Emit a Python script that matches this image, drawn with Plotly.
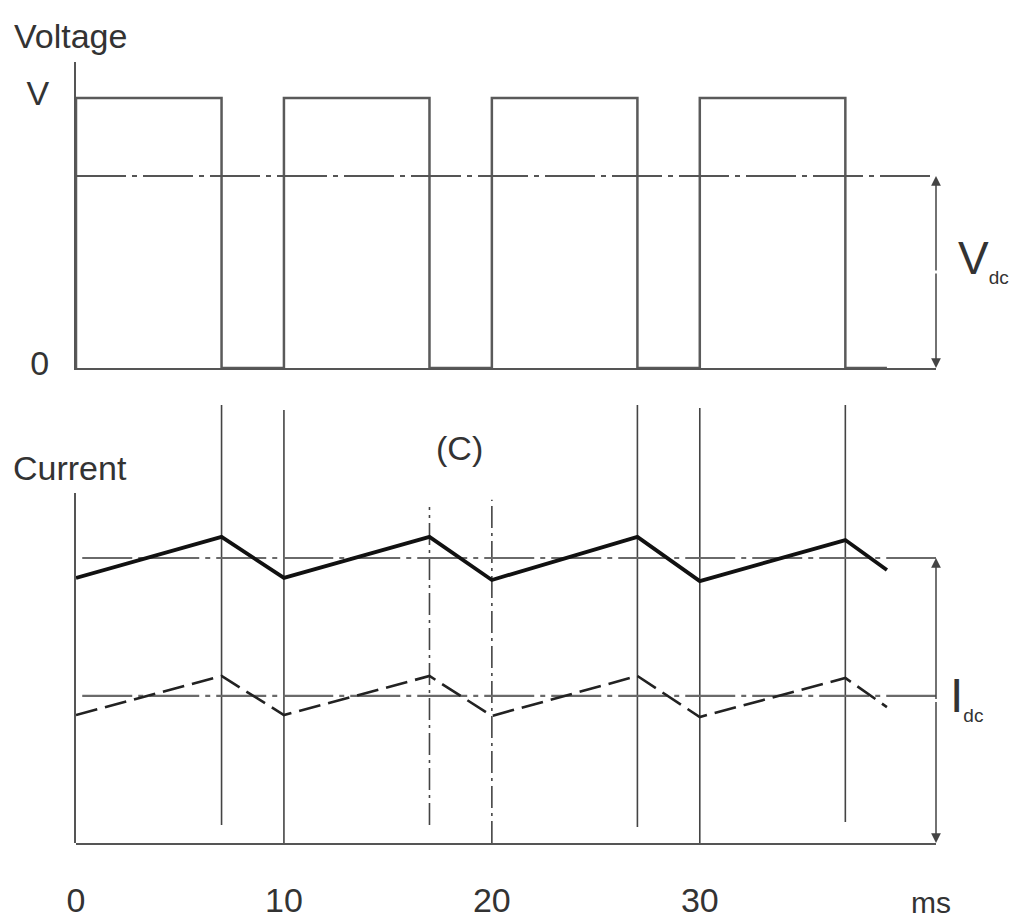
import plotly.graph_objects as go

# ---------------- data ----------------
# Voltage square wave (drawn with 'hv' steps)
volt_t = [0, 0, 7, 10, 17, 20, 27, 30, 37, 39]
volt_v = [0, 1, 0, 1, 0, 1, 0, 1, 0, 0]
V_DC = 0.711

# Currents (triangular ripple)
curr_t = [0, 7, 10, 17, 20, 27, 30, 37, 39]
curr_solid = [0.930, 1.074, 0.930, 1.074, 0.923, 1.074, 0.919, 1.063, 0.958]
curr_dashed = [0.449, 0.586, 0.449, 0.586, 0.446, 0.586, 0.442, 0.579, 0.477]
I_DC_SOLID = 1.0
I_DC_DASHED = 0.516

# Switching instants (vertical markers)
switch_t = [7, 10, 17, 20, 27, 30, 37]
switch_top = [1.537, 1.519, 1.179, 1.204, 1.537, 1.526, 1.537]
switch_bot = [0.063, 0.0, 0.063, 0.0, 0.056, 0.0, 0.074]
switch_dashed = [False, False, True, True, False, False, False]

x_ticks = [0, 10, 20, 30]
x_ticktext = ["0", "10", "20", "30"]
T_END = 41.36

FONT = "Liberation Sans, Arial, sans-serif"
INK = "#333333"
GRAY = "#5a5a5a"
DASHDOT = "50px,6px,5px,6px"

fig = go.Figure()

# Voltage
fig.add_trace(go.Scatter(x=volt_t, y=volt_v, mode="lines", line_shape="hv",
                         line=dict(color=GRAY, width=2.5), xaxis="x", yaxis="y",
                         showlegend=False, hoverinfo="skip"))
fig.add_trace(go.Scatter(x=[0, T_END], y=[V_DC, V_DC], mode="lines",
                         line=dict(color="#555555", width=2.2, dash=DASHDOT),
                         xaxis="x", yaxis="y", showlegend=False, hoverinfo="skip"))

# Switching verticals
for t, top, bot, dd in zip(switch_t, switch_top, switch_bot, switch_dashed):
    fig.add_trace(go.Scatter(x=[t, t], y=[bot, top], mode="lines",
                             line=dict(color="#444444", width=1.6,
                                       dash="22px,5px,3px,5px" if dd else "solid"),
                             xaxis="x2", yaxis="y2", showlegend=False, hoverinfo="skip"))

# DC levels
for lvl in [I_DC_SOLID, I_DC_DASHED]:
    fig.add_trace(go.Scatter(x=[0.3, T_END], y=[lvl, lvl], mode="lines",
                             line=dict(color="#6a6a6a", width=2.2, dash=DASHDOT),
                             xaxis="x2", yaxis="y2", showlegend=False, hoverinfo="skip"))

# Currents
fig.add_trace(go.Scatter(x=curr_t, y=curr_solid, mode="lines",
                         line=dict(color="#111111", width=3.8),
                         xaxis="x2", yaxis="y2", showlegend=False, hoverinfo="skip"))
fig.add_trace(go.Scatter(x=curr_t, y=curr_dashed, mode="lines",
                         line=dict(color="#222222", width=2.6, dash="22px,8px"),
                         xaxis="x2", yaxis="y2", showlegend=False, hoverinfo="skip"))

# invisible trace to realise the current-axis line subplot
fig.add_trace(go.Scatter(x=[0], y=[0], mode="markers", marker=dict(opacity=0),
                         xaxis="x2", yaxis="y3", showlegend=False, hoverinfo="skip"))

H = 921
top_dom = [1 - 368 / H, 1 - 62 / H]
bot_dom = [1 - 843 / H, 1 - 400 / H]
axis_dom = [1 - 843 / H, 1 - 493 / H]

common_x = dict(range=[0, T_END], showgrid=False, zeroline=False, showline=True,
                linecolor="#555555", linewidth=2, ticks="", domain=[0, 1],
                automargin=False)
fig.update_layout(
    width=1013, height=921,
    margin=dict(l=76, r=77, t=0, b=0, pad=0),
    paper_bgcolor="white", plot_bgcolor="rgba(0,0,0,0)",
    font=dict(family=FONT, size=34, color=INK),
    xaxis=dict(**common_x, anchor="y", showticklabels=False),
    yaxis=dict(domain=top_dom, range=[0, 1.1333], anchor="x", showgrid=False,
               zeroline=False, showline=True, linecolor="#555555", linewidth=2,
               ticks="", tickvals=[0, 1], ticktext=["0", "V"], ticklabelstandoff=18,
               ticklabelshift=-5, automargin=False),
    xaxis2=dict(**common_x, anchor="y2", tickvals=x_ticks, ticktext=x_ticktext,
                ticklabelstandoff=26),
    yaxis2=dict(domain=bot_dom, range=[0, 443 / 285], anchor="x2", showgrid=False,
                zeroline=False, showline=False, showticklabels=False, automargin=False),
    yaxis3=dict(domain=axis_dom, range=[0, 1], anchor="x2", showgrid=False,
                zeroline=False, showline=True, linecolor="#555555", linewidth=2,
                showticklabels=False, ticks="", automargin=False),
)

ann = []
# double-headed dimension arrows
for (xr, yr, lvl) in [("x", "y", V_DC), ("x2", "y2", I_DC_SOLID)]:
    for head in [lvl, 0]:
        ann.append(dict(xref=xr, yref=yr, axref=xr, ayref=yr, x=T_END, y=head,
                        ax=T_END, ay=lvl / 2, text="", showarrow=True,
                        arrowhead=2, arrowsize=1.3, arrowwidth=1.5, arrowcolor="#444444"))
SUB = "<sub><span style='font-size:19px'>dc</span></sub>"
ann += [
    dict(xref="x", yref="y", x=T_END, y=0.40, xanchor="left", yanchor="middle",
         xshift=20, text="V" + SUB, showarrow=False, font=dict(size=46)),
    dict(xref="x2", yref="y2", x=T_END, y=0.51, xanchor="left", yanchor="middle",
         xshift=12, text="I" + SUB, showarrow=False, font=dict(size=48)),
    dict(xref="x", yref="paper", x=0, xshift=-6, y=1 - 36 / H, yanchor="middle",
         text="Voltage", showarrow=False),
    dict(xref="x2", yref="paper", x=0, xshift=-6, y=1 - 468 / H, yanchor="middle",
         text="Current", showarrow=False),
    dict(xref="x2", yref="paper", x=18.45, y=1 - 448 / H, yanchor="middle",
         text="(C)", showarrow=False),
    dict(xref="x2", yref="paper", x=41.1, y=1 - 902 / H, yanchor="middle",
         text="ms", showarrow=False, font=dict(size=30)),
]
fig.update_layout(annotations=ann)

fig.write_html("out.html")
